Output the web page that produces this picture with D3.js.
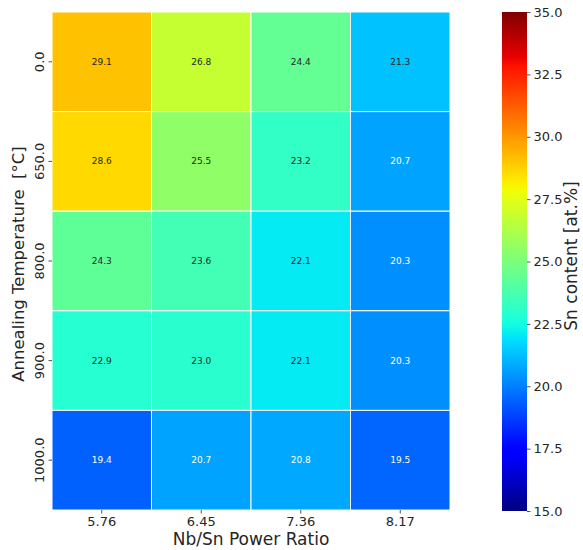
<!DOCTYPE html>
<html>
<head>
<meta charset="utf-8">
<script src="https://cdn.jsdelivr.net/npm/d3@7"></script>
<style>
  body { margin: 0; background: #fff; }
  svg { font-family: "DejaVu Sans", sans-serif; }
</style>
</head>
<body>
<svg id="chart" width="583" height="550"></svg>
<script>
// Données
const ratios = ["5.76", "6.45", "7.36", "8.17"];
const temps = ["0.0", "650.0", "800.0", "900.0", "1000.0"];
const snContent = [
  [29.1, 26.8, 24.4, 21.3],
  [28.6, 25.5, 23.2, 20.7],
  [24.3, 23.6, 22.1, 20.3],
  [22.9, 23.0, 22.1, 20.3],
  [19.4, 20.7, 20.8, 19.5]
];
const cbTicks = [15.0, 17.5, 20.0, 22.5, 25.0, 27.5, 30.0, 32.5, 35.0];

// Palette jet (matplotlib)
const jetR = [[0, 0], [0.35, 0], [0.66, 1], [0.89, 1], [1, 0.5]];
const jetG = [[0, 0], [0.125, 0], [0.375, 1], [0.64, 1], [0.91, 0], [1, 0]];
const jetB = [[0, 0.5], [0.11, 1], [0.34, 1], [0.65, 0], [1, 0]];
function seg(s, t) {
  for (let i = 1; i < s.length; i++) {
    if (t <= s[i][0]) {
      const f = (t - s[i - 1][0]) / (s[i][0] - s[i - 1][0]);
      return s[i - 1][1] + f * (s[i][1] - s[i - 1][1]);
    }
  }
  return s[s.length - 1][1];
}
function jet(t) {
  t = Math.max(0, Math.min(1, t));
  return [seg(jetR, t), seg(jetG, t), seg(jetB, t)];
}
const norm = d3.scaleLinear().domain([15, 35]).range([0, 1]).clamp(true);
const colorOf = v => d3.rgb(...jet(norm(v)).map(c => c * 255)).formatHex();
function luminance(v) {
  const lin = jet(norm(v)).map(c => c <= 0.03928 ? c / 12.92 : Math.pow((c + 0.055) / 1.055, 2.4));
  return 0.2126 * lin[0] + 0.7152 * lin[1] + 0.0722 * lin[2];
}

const svg = d3.select("#chart");
const textColor = "#262626";

// Zone du heatmap
const hmLeft = 52, hmRight = 450, hmTop = 12, hmBottom = 510;
const x = d3.scaleBand().domain(ratios).range([hmLeft, hmRight]);
const y = d3.scaleBand().domain(temps).range([hmTop, hmBottom]);

const cells = [];
temps.forEach((t, i) => ratios.forEach((r, j) => cells.push({ t, r, v: snContent[i][j] })));

svg.append("g")
  .selectAll("rect")
  .data(cells)
  .enter().append("rect")
  .attr("x", d => x(d.r))
  .attr("y", d => y(d.t))
  .attr("width", x.bandwidth())
  .attr("height", y.bandwidth())
  .attr("fill", d => colorOf(d.v))
  .attr("stroke", "#fff")
  .attr("stroke-width", 1);

svg.append("g")
  .selectAll("text")
  .data(cells)
  .enter().append("text")
  .attr("x", d => x(d.r) + x.bandwidth() / 2)
  .attr("y", d => y(d.t) + y.bandwidth() / 2)
  .attr("text-anchor", "middle")
  .attr("dominant-baseline", "central")
  .attr("font-size", "9px")
  .attr("fill", d => luminance(d.v) > 0.408 ? textColor : "#ffffff")
  .text(d => d.v.toFixed(1));

// Axes
const xAxis = svg.append("g")
  .attr("transform", `translate(0,${hmBottom})`)
  .call(d3.axisBottom(x).tickSize(3.5).tickPadding(3));
xAxis.select(".domain").remove();
xAxis.selectAll("line").attr("stroke", textColor).attr("stroke-width", 0.8);
xAxis.selectAll("text").attr("font-size", "13px").attr("fill", textColor)
  .attr("font-family", "DejaVu Sans");

const yAxis = svg.append("g")
  .attr("transform", `translate(${hmLeft},0)`)
  .call(d3.axisLeft(y).tickSize(3.5).tickPadding(3));
yAxis.select(".domain").remove();
yAxis.selectAll("line").attr("stroke", textColor).attr("stroke-width", 0.8);
yAxis.selectAll("text")
  .attr("font-size", "13px").attr("fill", textColor).attr("font-family", "DejaVu Sans")
  .attr("x", null).attr("dy", null)
  .attr("text-anchor", "middle")
  .attr("dominant-baseline", "auto")
  .attr("transform", "translate(-8,0) rotate(-90)");

svg.append("text")
  .attr("x", hmLeft + (hmRight - hmLeft) / 2)
  .attr("y", 545)
  .attr("text-anchor", "middle")
  .attr("font-size", "17px")
  .attr("fill", textColor)
  .text("Nb/Sn Power Ratio");

svg.append("text")
  .attr("transform", `translate(24,264) rotate(-90)`)
  .attr("text-anchor", "middle")
  .attr("font-size", "16.5px")
  .attr("fill", textColor)
  .style("white-space", "pre")
  .text("Annealing Temperature  [°C]");

// Barre de couleur
const cbX = 502, cbW = 25, cbTop = 12, cbBottom = 511;
const cbScale = d3.scaleLinear().domain([15, 35]).range([cbBottom, cbTop]);
const defs = svg.append("defs");
const grad = defs.append("linearGradient")
  .attr("id", "jetgrad")
  .attr("x1", 0).attr("y1", 1).attr("x2", 0).attr("y2", 0);
d3.range(0, 1.0001, 0.01).forEach(t => {
  grad.append("stop")
    .attr("offset", t)
    .attr("stop-color", d3.rgb(...jet(t).map(c => c * 255)).formatHex());
});
svg.append("rect")
  .attr("x", cbX).attr("y", cbTop)
  .attr("width", cbW).attr("height", cbBottom - cbTop)
  .attr("fill", "url(#jetgrad)");

const cbAxis = svg.append("g")
  .attr("transform", `translate(${cbX + cbW},0)`)
  .call(d3.axisRight(cbScale).tickValues(cbTicks).tickFormat(d3.format(".1f")).tickSize(3.5).tickPadding(3));
cbAxis.select(".domain").remove();
cbAxis.selectAll("line").attr("stroke", textColor).attr("stroke-width", 0.8);
cbAxis.selectAll("text").attr("font-size", "13px").attr("fill", textColor)
  .attr("font-family", "DejaVu Sans");

svg.append("text")
  .attr("transform", `translate(577,256) rotate(-90)`)
  .attr("text-anchor", "middle")
  .attr("font-size", "17px")
  .attr("fill", textColor)
  .text("Sn content [at.%]");
</script>
</body>
</html>
